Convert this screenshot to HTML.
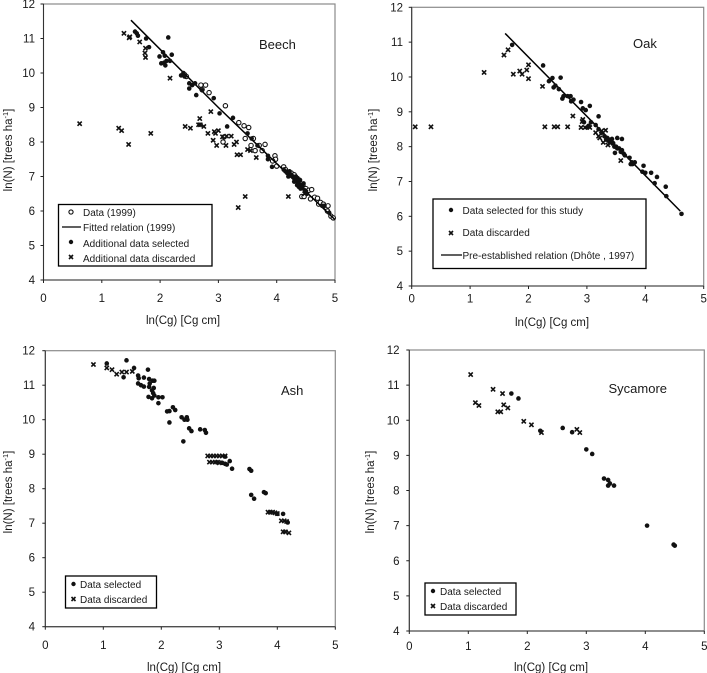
<!DOCTYPE html>
<html lang="en">
<head>
<meta charset="utf-8">
<title>Self-thinning data: Beech, Oak, Ash, Sycamore</title>
<style>
html,body{margin:0;padding:0;background:#fff;}
svg{display:block;position:absolute;left:0;top:0;filter:blur(0.35px);}
text{font-family:"Liberation Sans",Arial,sans-serif;fill:#1a1a1a;}
.tick{font-size:11.5px;}
.title{font-size:11.5px;}
.species{font-size:13px;}
.leg{font-size:10px;}
.box{fill:#fff;stroke:#000;stroke-width:1.3;}
.cross{stroke:#111;stroke-width:1.6;fill:none;}
</style>
</head>
<body>
<svg id="figure" width="707" height="673" viewBox="0 0 707 673" xmlns="http://www.w3.org/2000/svg">
  <g id="beech">
    <rect x="43.5" y="4" width="291.5" height="276" fill="none" stroke="#8a8a8a" stroke-width="1.2"/>
    <g class="axes"></g><g class="marks"></g>
    <text class="species" x="259" y="49">Beech</text>
    <text class="title" x="183" y="324" text-anchor="middle">ln(Cg) [Cg cm]</text>
    <text class="title" transform="translate(12,150) rotate(-90)" text-anchor="middle">ln(N) [trees ha<tspan font-size="7.5" dy="-4">-1</tspan><tspan dy="4">]</tspan></text>
    <g>
      <rect class="box" x="58.5" y="204.5" width="153.5" height="61.5"/>
      <circle cx="71" cy="212" r="2.1" fill="#fff" stroke="#111" stroke-width="1.1"/>
      <text class="leg" x="83" y="216">Data (1999)</text>
      <line x1="62" x2="81" y1="227" y2="227" stroke="#000" stroke-width="1.3"/>
      <text class="leg" x="83" y="231">Fitted relation (1999)</text>
      <circle cx="71" cy="242" r="2.2" fill="#111"/>
      <text class="leg" x="83" y="247">Additional data selected</text>
      <path class="cross" d="M69 255l4 4M73 255l-4 4"/>
      <text class="leg" x="83" y="262">Additional data discarded</text>
    </g>
  </g>
  <g id="oak">
    <rect x="411.7" y="7.3" width="292" height="278.7" fill="none" stroke="#8a8a8a" stroke-width="1.2"/>
    <g class="axes"></g><g class="marks"></g>
    <text class="species" x="633" y="48">Oak</text>
    <text class="title" x="552" y="326" text-anchor="middle">ln(Cg) [Cg cm]</text>
    <text class="title" transform="translate(377,150) rotate(-90)" text-anchor="middle">ln(N) [trees ha<tspan font-size="7.5" dy="-4">-1</tspan><tspan dy="4">]</tspan></text>
    <g>
      <rect class="box" x="433" y="199" width="213" height="69.5"/>
      <circle cx="451" cy="210" r="2.2" fill="#111"/>
      <text class="leg" x="462.5" y="214">Data selected for this study</text>
      <path class="cross" d="M449 231l4 4M453 231l-4 4"/>
      <text class="leg" x="462.5" y="236">Data discarded</text>
      <line x1="441" x2="462" y1="255" y2="255" stroke="#000" stroke-width="1.3"/>
      <text class="leg" x="462.5" y="259">Pre-established relation (Dhôte , 1997)</text>
    </g>
  </g>
  <g id="ash">
    <rect x="45.3" y="350.7" width="290" height="276" fill="none" stroke="#8a8a8a" stroke-width="1.2"/>
    <g class="axes"></g><g class="marks"></g>
    <text class="species" x="281" y="395">Ash</text>
    <text class="title" x="184" y="671" text-anchor="middle">ln(Cg) [Cg cm]</text>
    <text class="title" transform="translate(12,492) rotate(-90)" text-anchor="middle">ln(N) [trees ha<tspan font-size="7.5" dy="-4">-1</tspan><tspan dy="4">]</tspan></text>
    <g>
      <rect class="box" x="65.5" y="576" width="91" height="32"/>
      <circle cx="73.5" cy="584" r="2.2" fill="#111"/>
      <text class="leg" x="80" y="588">Data selected</text>
      <path class="cross" d="M71.5 597l4 4M75.5 597l-4 4"/>
      <text class="leg" x="80" y="603">Data discarded</text>
    </g>
  </g>
  <g id="sycamore">
    <rect x="409.3" y="350" width="295" height="281" fill="none" stroke="#8a8a8a" stroke-width="1.2"/>
    <g class="axes"></g><g class="marks"></g>
    <text class="species" x="608.5" y="393" font-size="13.3">Sycamore</text>
    <text class="title" x="551" y="671" text-anchor="middle">ln(Cg) [Cg cm]</text>
    <text class="title" transform="translate(374,492) rotate(-90)" text-anchor="middle">ln(N) [trees ha<tspan font-size="7.5" dy="-4">-1</tspan><tspan dy="4">]</tspan></text>
    <g>
      <rect class="box" x="425" y="583" width="91" height="32"/>
      <circle cx="433" cy="591" r="2.2" fill="#111"/>
      <text class="leg" x="440" y="595">Data selected</text>
      <path class="cross" d="M431 604l4 4M435 604l-4 4"/>
      <text class="leg" x="440" y="610">Data discarded</text>
    </g>
  </g>
</svg>
<script>
var xTicks = [0, 1, 2, 3, 4, 5];
var yTicks = [4, 5, 6, 7, 8, 9, 10, 11, 12];

var beechOpen = [[2.7,9.65],[2.78,9.65],[2.84,9.43],[2.72,9.52],[3.12,9.05],[3.35,8.56],[3.44,8.47],[3.52,8.42],[3.46,8.1],[3.56,7.9],[3.6,8.1],[3.63,7.75],[3.7,7.9],[3.8,7.93],[3.75,7.75],[3.97,7.6],[3.98,7.5],[4.0,7.3],[3.93,7.45],[3.08,8.0],[3.1,8.15],[4.12,7.28],[4.15,7.2],[4.25,7.1],[4.3,7.05],[4.35,6.9],[4.4,6.8],[4.45,6.75],[4.5,6.65],[4.55,6.6],[4.6,6.62],[4.58,6.35],[4.65,6.4],[4.7,6.37],[4.72,6.2],[4.75,6.25],[4.8,6.2],[4.85,6.1],[4.88,6.15],[4.87,6.0],[4.93,5.85],[4.97,5.8],[4.43,6.42],[4.47,6.42],[2.42,9.95],[2.45,9.9]];
var beechFilled = [[1.57,11.2],[1.6,11.15],[1.62,11.08],[1.76,11.0],[1.81,10.75],[2.14,11.03],[1.99,10.48],[2.05,10.6],[2.08,10.5],[2.2,10.53],[2.02,10.28],[2.07,10.3],[2.09,10.22],[2.11,10.35],[2.17,10.35],[2.36,9.93],[2.4,10.0],[2.42,9.9],[2.5,9.7],[2.5,9.55],[2.55,9.65],[2.6,9.7],[2.62,9.36],[2.72,9.5],[2.92,9.27],[3.02,8.83],[3.25,8.7],[3.15,8.45],[3.5,8.25],[3.57,8.1],[3.67,7.9],[3.85,7.5],[3.85,7.6],[3.92,7.28],[4.12,7.2],[4.15,7.15],[4.18,7.1],[4.22,7.15],[4.25,7.05],[4.28,7.0],[4.3,6.95],[4.32,6.9],[4.34,6.85],[4.36,6.95],[4.38,6.8],[4.4,6.9],[4.42,6.75],[4.44,6.7],[4.38,6.7],[4.46,6.8],[4.48,6.6],[4.5,6.55],[4.35,6.75],[4.3,6.85],[4.78,6.15],[4.82,6.15],[4.9,5.95],[4.2,7.0],[4.33,7.0],[4.41,6.65],[4.52,6.5]];
var beechCross = [[0.62,8.53],[1.29,8.4],[1.34,8.33],[1.46,7.93],[1.84,8.25],[1.38,11.15],[1.47,11.02],[1.48,11.05],[1.65,10.9],[1.75,10.72],[1.74,10.58],[1.75,10.45],[2.17,9.85],[2.43,8.45],[2.52,8.4],[2.66,8.5],[2.69,8.5],[2.68,8.68],[2.75,8.45],[2.87,8.88],[2.82,8.25],[2.93,8.3],[2.95,8.25],[2.91,8.05],[2.97,7.9],[3.0,8.33],[3.07,8.15],[3.14,8.17],[3.13,7.9],[3.22,8.17],[3.27,7.93],[3.31,8.0],[3.32,7.63],[3.38,7.63],[3.46,6.42],[3.34,6.1],[4.2,6.42],[3.5,7.78],[3.55,7.75],[3.65,7.55],[4.5,6.55],[4.48,6.5]];
var beechLine = [[1.5,11.53],[3,9.0],[5,5.75]];

var oakFilled = [[1.72,10.92],[2.25,10.33],[2.35,9.88],[2.41,9.97],[2.43,9.7],[2.46,9.75],[2.55,9.98],[2.52,9.65],[2.58,9.38],[2.6,9.45],[2.67,9.45],[2.72,9.45],[2.73,9.3],[2.77,9.35],[2.9,9.28],[2.93,9.1],[2.98,9.05],[3.05,9.17],[3.2,8.87],[2.95,8.7],[3.0,8.55],[3.03,8.6],[3.07,8.7],[3.15,8.62],[3.2,8.5],[3.25,8.4],[3.3,8.3],[3.35,8.25],[3.4,8.2],[3.42,8.15],[3.45,8.1],[3.5,8.0],[3.52,8.25],[3.6,8.22],[3.48,7.82],[3.55,7.95],[3.6,7.9],[3.63,7.8],[3.65,7.75],[3.73,7.68],[3.75,7.5],[3.77,7.55],[3.82,7.55],[3.97,7.45],[3.95,7.28],[4.0,7.25],[4.1,7.25],[4.16,6.95],[4.2,7.13],[4.35,6.85],[4.36,6.58],[4.62,6.07],[3.33,8.2],[3.38,8.15],[3.43,8.22],[3.47,8.0],[3.52,7.95],[3.58,7.85],[3.78,7.5]];
var oakCross = [[0.06,8.57],[0.33,8.57],[1.24,10.13],[1.58,10.63],[1.65,10.78],[1.74,10.08],[1.85,10.17],[1.89,10.08],[1.97,10.2],[2.0,10.35],[2.0,9.95],[2.24,9.73],[2.28,8.57],[2.44,8.57],[2.5,8.57],[2.67,8.57],[2.76,8.88],[2.9,8.55],[2.93,8.78],[2.97,8.55],[3.05,8.55],[3.15,8.4],[3.2,8.3],[3.25,8.45],[3.32,8.47],[3.28,8.12],[3.4,8.1],[3.58,7.6],[2.92,8.72],[3.22,8.25],[3.36,8.05]];
var oakLine = [[1.6,11.25],[4.6,6.15]];

var ashFilled = [[1.06,11.63],[1.4,11.72],[1.53,11.5],[1.77,11.45],[1.35,11.23],[1.6,11.28],[1.61,11.2],[1.7,11.22],[1.79,11.18],[1.85,11.13],[1.88,11.13],[1.6,11.05],[1.65,11.0],[1.7,10.96],[1.8,11.05],[1.79,10.95],[1.87,10.92],[1.84,10.85],[1.86,10.77],[1.88,10.7],[1.78,10.66],[1.84,10.62],[1.95,10.65],[2.02,10.65],[1.95,10.48],[2.1,10.24],[2.14,10.25],[2.2,10.36],[2.24,10.28],[2.14,9.92],[2.35,10.07],[2.4,10.0],[2.44,10.07],[2.45,10.0],[2.48,9.75],[2.52,9.67],[2.38,9.37],[2.67,9.72],[2.75,9.7],[2.77,9.62],[3.05,8.75],[3.1,8.72],[3.13,8.7],[3.18,8.8],[3.22,8.58],[3.52,8.57],[3.55,8.52],[3.55,7.82],[3.6,7.71],[3.77,7.9],[3.8,7.87],[4.1,7.27],[4.0,7.27],[4.18,7.02],[3.1,8.93]];
var ashCross = [[0.83,11.6],[1.06,11.5],[1.15,11.45],[1.23,11.32],[1.32,11.38],[1.4,11.38],[1.5,11.4],[2.8,8.95],[2.85,8.95],[2.9,8.95],[2.95,8.95],[3.0,8.95],[3.05,8.95],[3.1,8.95],[2.83,8.77],[2.88,8.77],[2.93,8.77],[2.97,8.77],[3.0,8.75],[3.84,7.32],[3.88,7.32],[3.92,7.32],[3.96,7.3],[4.0,7.28],[4.07,7.07],[4.12,7.07],[4.16,7.05],[4.1,6.75],[4.14,6.75],[4.2,6.72]];

var sycamoreFilled = [[1.73,10.76],[1.85,10.62],[2.22,9.7],[2.6,9.78],[2.76,9.66],[3.0,9.17],[3.1,9.04],[3.3,8.34],[3.37,8.3],[3.37,8.14],[3.4,8.2],[3.47,8.14],[4.03,7.0],[4.48,6.46],[4.5,6.43]];
var sycamoreCross = [[1.04,11.3],[1.12,10.5],[1.18,10.42],[1.42,10.88],[1.58,10.76],[1.5,10.24],[1.55,10.24],[1.6,10.44],[1.67,10.35],[1.94,9.97],[2.07,9.87],[2.24,9.65],[2.84,9.74],[2.89,9.65]];

var NS = 'http://www.w3.org/2000/svg';

function make(tag, parent, attrs) {
  var el = document.createElementNS(NS, tag);
  for (var k in attrs) el.setAttribute(k, attrs[k]);
  parent.appendChild(el);
  return el;
}

function drawChart(id, box, series) {
  var root = document.getElementById(id);
  var axes = root.querySelector('.axes');
  var marks = root.querySelector('.marks');
  function sx(v) { return box.x0 + (v - 0) / 5 * (box.x5 - box.x0); }
  function sy(v) { return box.y4 + (v - 4) / 8 * (box.y12 - box.y4); }

  var left = make('line', axes, { x1: box.x0, x2: box.x0, y1: box.y12, y2: box.y4, stroke: '#333', 'stroke-width': 1 });
  
  
  var bottom = make('line', axes, { x1: box.x0, x2: box.x5, y1: box.y4, y2: box.y4, stroke: '#333', 'stroke-width': 1 });
  
  

  xTicks.forEach(function (t) {
    var mark = make('line', axes, { x1: sx(t), x2: sx(t), y1: box.y4, y2: box.y4 + 3, stroke: '#222', 'stroke-width': 1 });
    
    
    var label = make('text', axes, { x: sx(t), y: box.xLabelY, 'text-anchor': 'middle', 'class': 'tick' });
    
    
    label.textContent = t;
  });
  yTicks.forEach(function (t) {
    var mark = make('line', axes, { x1: box.x0 - 3, x2: box.x0, y1: sy(t), y2: sy(t), stroke: '#222', 'stroke-width': 1 });
    
    
    var label = make('text', axes, { x: box.yLabelX, y: sy(t) + 4, 'text-anchor': 'end', 'class': 'tick' });
    
    
    label.textContent = t;
  });

  if (series.open) series.open.forEach(function (p) {
    var c = make('circle', marks, { cx: sx(p[0]), cy: sy(p[1]), r: 2.2, fill: '#fff', stroke: '#111', 'stroke-width': 1.1 });
    
    
  });
  if (series.line) {
    var pts = series.line.map(function (p) { return sx(p[0]) + ',' + sy(p[1]); }).join(' ');
    var ln = make('polyline', marks, { points: pts, fill: 'none', stroke: '#000', 'stroke-width': 1.5 });
    
    
  }
  series.filled.forEach(function (p) {
    var c = make('circle', marks, { cx: sx(p[0]), cy: sy(p[1]), r: 2.3, fill: '#111' });
    
    
  });
  series.cross.forEach(function (p) {
    var x = sx(p[0]), y = sy(p[1]);
    var d = 'M' + (x - 2.1) + ' ' + (y - 2.1) + 'l4.2 4.2M' + (x + 2.1) + ' ' + (y - 2.1) + 'l-4.2 4.2';
    var c = make('path', marks, { d: d, 'class': 'cross' });
    
    
  });
}

drawChart('beech', { x0: 43.5, x5: 335, y12: 4, y4: 280, xLabelY: 302, yLabelX: 35 }, { open: beechOpen, filled: beechFilled, cross: beechCross, line: beechLine });
drawChart('oak', { x0: 411.7, x5: 703.7, y12: 7.3, y4: 286, xLabelY: 302.5, yLabelX: 403 }, { filled: oakFilled, cross: oakCross, line: oakLine });
drawChart('ash', { x0: 45.3, x5: 335.3, y12: 350.7, y4: 626.7, xLabelY: 649, yLabelX: 35 }, { filled: ashFilled, cross: ashCross });
drawChart('sycamore', { x0: 409.3, x5: 704.3, y12: 350, y4: 631, xLabelY: 650, yLabelX: 399.5 }, { filled: sycamoreFilled, cross: sycamoreCross });
</script>
</body>
</html>
